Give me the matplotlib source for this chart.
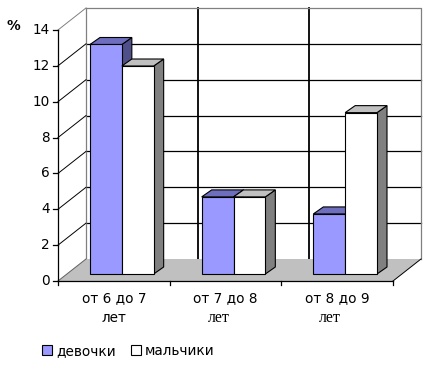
import matplotlib
matplotlib.use('Agg')
import matplotlib.pyplot as plt
from matplotlib.patches import Polygon
import numpy as np

plt.rcParams['font.family'] = ['DejaVu Sans']

categories = ['от 6 до 7', 'от 7 до 8', 'от 8 до 9']
girls = [12.8, 4.3, 3.35]
boys = [11.6, 4.3, 9.0]
series_names = ['девочки', 'мальчики']
yticks = [0, 2, 4, 6, 8, 10, 12, 14]

# pixel scale of the front plane (fig is 429x369 at dpi 100)
px_x = 111.67   # pixels per category
px_y = 17.93    # pixels per percent
x0_px, y0_px = 58, 281

# depth offsets in data units
wall = (28 / px_x, 22 / px_y)
bar_front = (8 / px_x, 7 / px_y)
bar_back = (18 / px_x, 14 / px_y)
bar_w = 0.285

girl_cols = ('#9999FF', '#6E6EBE', '#4F4F8A')
boy_cols = ('#FFFFFF', '#C0C0C0', '#808080')
fs = 9.8

fig = plt.figure(figsize=(4.29, 3.69), dpi=100)
ax = fig.add_axes([0, 0, 1, 1])
ax.set_xlim(-x0_px / px_x, (429 - x0_px) / px_x)
ax.set_ylim(-(369 - y0_px) / px_y, y0_px / px_y)
ax.axis('off')

n = len(categories)
ymax = yticks[-1]
wx, wy = wall

# back wall gridlines and borders
for v in yticks[1:-1]:
    ax.plot([wx, n + wx], [v + wy, v + wy], color='black', lw=0.9, zorder=1)
for i in range(1, n):
    ax.plot([i + wx, i + wx], [wy, ymax + wy], color='black', lw=1.3, zorder=1)
ax.plot([wx, n + wx, n + wx], [ymax + wy, ymax + wy, wy], color='#808080', lw=0.9, zorder=1)
ax.plot([wx, wx], [wy, ymax + wy], color='#808080', lw=0.9, zorder=1)

# left wall diagonals
for v in yticks[1:]:
    col = '#808080' if v == ymax else 'black'
    ax.plot([0, wx], [v, v + wy], color=col, lw=0.7, zorder=1)

# floor
floor = Polygon([(0, 0), (n, 0), (n + wx, wy), (wx, wy)], closed=True,
                facecolor='#C0C0C0', edgecolor='none', zorder=2)
ax.add_patch(floor)
ax.plot([0, wx], [0, wy], color='#606060', lw=0.7, zorder=2)
ax.plot([n, n + wx], [0, wy], color='black', lw=0.7, zorder=2)


def draw_bar(x, h, cols):
    fx, fy = bar_front
    bx, by = bar_back
    side = Polygon([(x + bar_w + fx, fy), (x + bar_w + bx, by),
                    (x + bar_w + bx, h + by), (x + bar_w + fx, h + fy)],
                   closed=True, facecolor=cols[2], edgecolor='black', lw=0.8, zorder=3)
    top = Polygon([(x + fx, h + fy), (x + bar_w + fx, h + fy),
                   (x + bar_w + bx, h + by), (x + bx, h + by)],
                  closed=True, facecolor=cols[1], edgecolor='black', lw=0.8, zorder=3)
    ax.add_patch(side)
    ax.add_patch(top)
    return ax.bar(x + fx, h, bar_w, bottom=fy, align='edge', color=cols[0],
                  edgecolor='black', lw=0.8, zorder=3)


for i in range(n):
    hg = draw_bar(i + 0.5 - bar_w, girls[i], girl_cols)
    hb = draw_bar(i + 0.5, boys[i], boy_cols)

# front axes lines
ax.plot([0, 0], [0, ymax], color='black', lw=0.9, zorder=4)
ax.plot([0, n], [0, 0], color='black', lw=0.9, zorder=4)
tick_dx = 5 / px_x
tick_dy = 4 / px_y
for v in yticks:
    ax.plot([-tick_dx, 0], [v, v], color='black', lw=0.9, zorder=4)
    ax.text(-8 / px_x, v, str(v), ha='right', va='center', fontsize=fs)
for i in range(n + 1):
    ax.plot([i, i], [0, -tick_dy], color='black', lw=0.9, zorder=4)

ax.text(-51 / px_x, ymax + 0.2, '%', ha='left', va='center', fontsize=fs, fontweight='bold')

# category labels
for i, c in enumerate(categories):
    ax.text(i + 0.5, -17 / px_y, c, ha='center', va='center', fontsize=fs)
    if i == 0:
        ax.text(i + 0.5, -37 / px_y, 'лет', ha='center', va='center', fontsize=fs)
    else:
        ax.text(i + 0.5 - 7 / px_x, -37 / px_y, 'лет', ha='center', va='center',
                fontsize=11.5, family=['Liberation Serif', 'DejaVu Serif'])

ax.legend([hg, hb], series_names, loc='center left',
          bbox_to_anchor=(42 / 429, 1 - 351 / 369), ncol=2, frameon=False,
          fontsize=fs, handlelength=0.75, handleheight=0.75, handletextpad=0.3,
          columnspacing=1.1, borderpad=0, borderaxespad=0)

fig.savefig('out.png', dpi=100)
